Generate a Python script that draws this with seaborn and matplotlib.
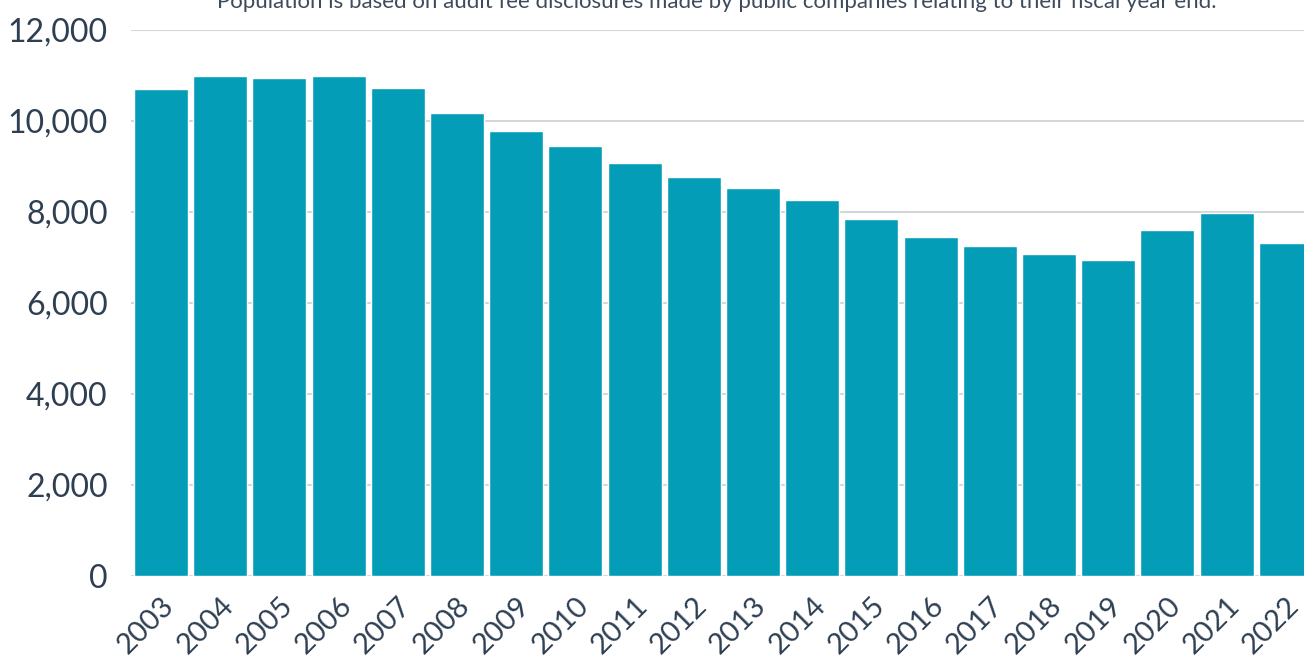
import matplotlib
matplotlib.use("Agg")
import matplotlib.pyplot as plt
from matplotlib.ticker import FuncFormatter
import seaborn as sns
import pandas as pd

years = [str(y) for y in range(2003, 2023)]
companies = [10700, 11000, 10945, 11000, 10715, 10165, 9775, 9455, 9070, 8775,
             8520, 8260, 7840, 7450, 7250, 7080, 6950, 7600, 7980, 7315]
y_ticks = [0, 2000, 4000, 6000, 8000, 10000, 12000]
subtitle = "Population is based on audit fee disclosures made by public companies relating to their fiscal year end."

df = pd.DataFrame({"year": years, "count": companies})

sns.set_theme(style="white")
plt.rcParams["font.family"] = ["Lato", "DejaVu Sans"]

fig = plt.figure(figsize=(13.04, 6.67), dpi=100)
ax = fig.add_axes([131.4 / 1304, 91 / 667, 1184 / 1304, 546 / 667])

sns.barplot(data=df, x="year", y="count", color="#049db7", width=0.91,
            saturation=1, ax=ax, zorder=3)

ax.set_ylim(0, 12000)
ax.set_xlim(-0.5, len(years) - 0.5)
ax.set_yticks(y_ticks)
ax.yaxis.set_major_formatter(FuncFormatter(lambda v, p: f"{int(v):,}"))
ax.grid(axis="y", color="#d3d6da", linewidth=1.5, zorder=0)
ax.grid(axis="x", visible=False)
for s in ax.spines.values():
    s.set_visible(False)
ax.set_xlabel("")
ax.set_ylabel("")
ax.tick_params(axis="y", length=0, pad=17, labelsize=23, labelcolor="#2e3f52")
ax.tick_params(axis="x", length=0, pad=12, labelsize=21, labelcolor="#2e3f52")
for lbl in ax.get_xticklabels():
    lbl.set_rotation(45)
    lbl.set_ha("right")
    lbl.set_va("top")
    lbl.set_rotation_mode("anchor")

fig.text(717 / 1304, 1 - 8 / 667, subtitle, ha="center", va="baseline",
         fontsize=16, color="#3d4b5c")

fig.savefig("out.png", dpi=100)
